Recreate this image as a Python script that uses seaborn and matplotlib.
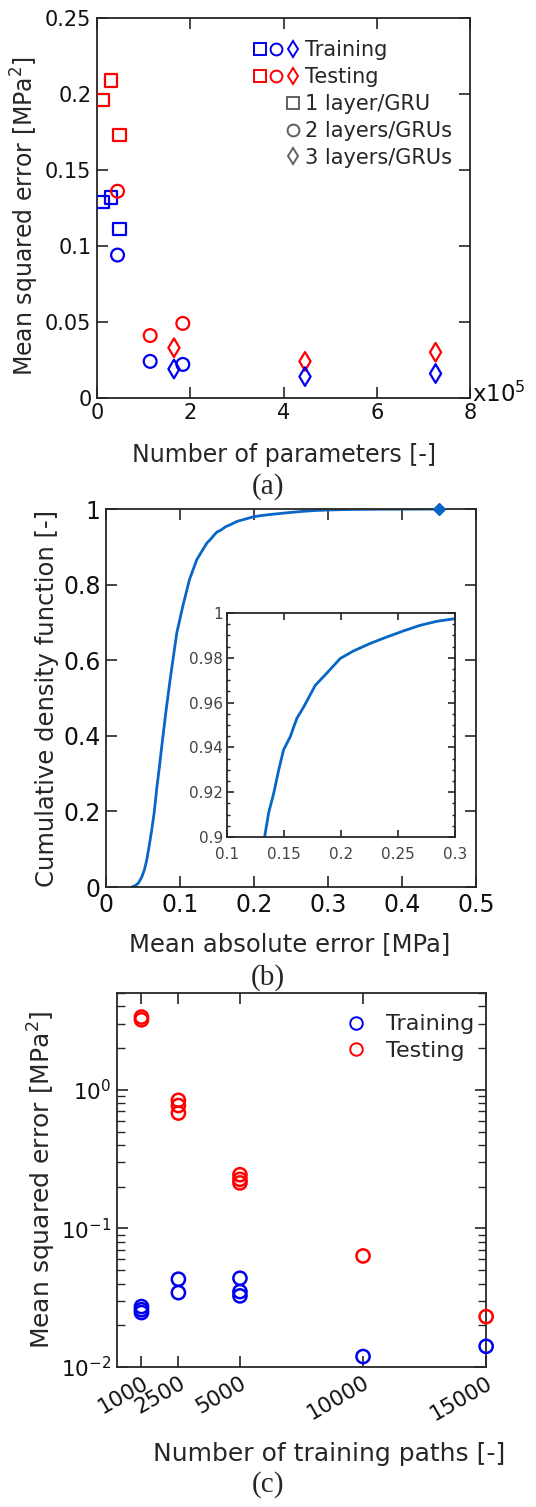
import numpy as np
import pandas as pd
import matplotlib
matplotlib.use('Agg')
import matplotlib.pyplot as plt
import seaborn as sns
from matplotlib.lines import Line2D
from matplotlib.legend_handler import HandlerTuple
from matplotlib.ticker import MultipleLocator, FixedLocator, LogLocator, NullFormatter, FuncFormatter

# ---------------- Panel (a) data ----------------
params_1layer = [0.12e5, 0.30e5, 0.48e5]
train_1layer = [0.129, 0.132, 0.111]
test_1layer = [0.196, 0.209, 0.173]
params_2layers = [0.44e5, 1.14e5, 1.84e5]
train_2layers = [0.094, 0.024, 0.022]
test_2layers = [0.136, 0.041, 0.049]
params_3layers = [1.65e5, 4.46e5, 7.26e5]
train_3layers = [0.019, 0.014, 0.016]
test_3layers = [0.033, 0.024, 0.030]
legend_a = ["Training", "Testing", "1 layer/GRU", "2 layers/GRUs", "3 layers/GRUs"]

# ---------------- Panel (b) data ----------------
mae = [0.0347, 0.0392, 0.0437, 0.0482, 0.0518, 0.055, 0.0581, 0.0617, 0.0649, 0.0685,
       0.0721, 0.0752, 0.0806, 0.0865, 0.091, 0.0955, 0.1036, 0.1126, 0.1225,
       0.133, 0.1365, 0.141, 0.1454, 0.1496, 0.1555, 0.1613, 0.1672,
       0.1774, 0.1876, 0.1993, 0.211, 0.2255, 0.2401, 0.2547, 0.2693, 0.2839, 0.30,
       0.33, 0.38, 0.45]
cdf = [0.0, 0.0035, 0.0106, 0.0265, 0.0459, 0.0723, 0.1076, 0.1517, 0.1958, 0.2619,
       0.3192, 0.3721, 0.4603, 0.5485, 0.6102, 0.672, 0.7425, 0.813, 0.866,
       0.900, 0.9107, 0.9196, 0.930, 0.9389, 0.9448, 0.953, 0.958,
       0.9677, 0.9732, 0.9797, 0.9831, 0.9864, 0.9893, 0.992, 0.9945, 0.9963, 0.9975,
       0.999, 0.9997, 1.0]

# ---------------- Panel (c) data ----------------
paths_train = [1000, 1000, 1000, 2500, 2500, 5000, 5000, 5000, 10000, 15000]
mse_train = [0.0273, 0.0259, 0.0247, 0.043, 0.0344, 0.0437, 0.035, 0.0326, 0.0119, 0.0141]
paths_test = [1000, 1000, 2500, 2500, 2500, 5000, 5000, 5000, 10000, 15000]
mse_test = [3.35, 3.2, 0.84, 0.77, 0.68, 0.244, 0.226, 0.213, 0.0633, 0.0231]
path_ticks = [1000, 2500, 5000, 10000, 15000]

# ---------------- style ----------------
sns.set_theme(style="ticks")
plt.rcParams['font.family'] = ['DejaVu Sans']
plt.rcParams['mathtext.fontset'] = 'dejavusans'
BLUE = '#0000ee'
RED = '#ff0000'
GRAY = '#606060'
AX_COL = '#262626'
LINE_B = '#0866c6'

fig = plt.figure(figsize=(5.36, 15.07), dpi=100)


def style_axes(ax, length=8, labelsize=14.5):
    for s in ax.spines.values():
        s.set_color(AX_COL)
        s.set_linewidth(1.3)
        s.set_visible(True)
    ax.tick_params(which='major', direction='in', top=True, right=True,
                   length=length, width=1.2, labelsize=labelsize, pad=4,
                   color=AX_COL, labelcolor='#111111')
    ax.tick_params(which='minor', direction='in', top=True, right=True,
                   length=length / 2, width=1.0, color=AX_COL)


gfmt = FuncFormatter(lambda v, p: f"{v:g}")

# ================= Panel (a) =================
ax_a = fig.add_axes([0.181, 0.736, 0.696, 0.252])
mk = dict(facecolor='none', linewidth=1.6, ax=ax_a, legend=False, zorder=3)
sns.scatterplot(x=params_1layer, y=test_1layer, marker='s', s=80, edgecolor=RED, **mk)
sns.scatterplot(x=params_1layer, y=train_1layer, marker='s', s=80, edgecolor=BLUE, **mk)
sns.scatterplot(x=params_2layers, y=test_2layers, marker='o', s=85, edgecolor=RED, **mk)
sns.scatterplot(x=params_2layers, y=train_2layers, marker='o', s=85, edgecolor=BLUE, **mk)
sns.scatterplot(x=params_3layers, y=test_3layers, marker='d', s=90, edgecolor=RED, **mk)
sns.scatterplot(x=params_3layers, y=train_3layers, marker='d', s=90, edgecolor=BLUE, **mk)
ax_a.set_xlim(0, 8e5)
ax_a.set_ylim(0, 0.25)
ax_a.xaxis.set_major_locator(MultipleLocator(2e5))
ax_a.xaxis.set_major_formatter(FuncFormatter(lambda v, p: f"{v/1e5:g}"))
ax_a.yaxis.set_major_locator(MultipleLocator(0.05))
ax_a.yaxis.set_major_formatter(gfmt)
style_axes(ax_a, labelsize=15)
ax_a.set_xlabel("Number of parameters [-]", fontsize=17)
ax_a.xaxis.set_label_coords(0.5, -0.118)
ax_a.set_ylabel("Mean squared error [MPa$^2$]", fontsize=17)
ax_a.yaxis.set_label_coords(-0.15, 0.48)
ax_a.text(1.005, 0.01, "x10$^5$", transform=ax_a.transAxes, fontsize=16.5,
          ha='left', va='center', color='#111111')


def lm(marker, color, ms=8.5):
    return Line2D([], [], linestyle='none', marker=marker, markersize=ms,
                  markerfacecolor='none', markeredgecolor=color, markeredgewidth=1.4)


blank = Line2D([], [], linestyle='none', marker='None')
handles_a = [
    (lm('s', BLUE, 8), lm('o', BLUE, 8.5), lm('d', BLUE, 8)),
    (lm('s', RED, 8), lm('o', RED, 8.5), lm('d', RED, 8)),
    (blank, blank, lm('s', GRAY, 8)),
    (blank, blank, lm('o', GRAY, 8.5)),
    (blank, blank, lm('d', GRAY, 8)),
]
ax_a.legend(handles_a, legend_a, handler_map={tuple: HandlerTuple(ndivide=None)},
            loc='upper left', bbox_to_anchor=(0.38, 0.98), frameon=False,
            fontsize=15, handlelength=2.2, handletextpad=0.3, labelspacing=0.33,
            borderpad=0.2)

fig.text(0.5, 1 - 487 / 1507, "(a)", ha='center', va='center',
         fontsize=21, family='Liberation Serif')

# ================= Panel (b) =================
ax_b = fig.add_axes([0.198, 0.4114, 0.690, 0.2508])
df_b = pd.DataFrame({"mae": mae, "cdf": cdf})
sns.lineplot(data=df_b, x="mae", y="cdf", ax=ax_b, color=LINE_B, linewidth=2.0,
             sort=False, estimator=None)
ax_b.plot(mae[-1:], cdf[-1:], marker='D', markersize=6, color=LINE_B,
          linestyle='none', clip_on=False, zorder=5)
ax_b.set_xlim(0, 0.5)
ax_b.set_ylim(0, 1)
ax_b.xaxis.set_major_locator(MultipleLocator(0.1))
ax_b.yaxis.set_major_locator(MultipleLocator(0.2))
ax_b.xaxis.set_major_formatter(gfmt)
ax_b.yaxis.set_major_formatter(gfmt)
style_axes(ax_b, labelsize=17)
ax_b.set_xlabel("Mean absolute error [MPa]", fontsize=17.5)
ax_b.xaxis.set_label_coords(0.497, -0.119)
ax_b.set_ylabel("Cumulative density function [-]", fontsize=17.5)
ax_b.yaxis.set_label_coords(-0.127, 0.5)

ax_in = fig.add_axes([0.4235, 0.4446, 0.4254, 0.1486])
sns.lineplot(data=df_b, x="mae", y="cdf", ax=ax_in, color=LINE_B, linewidth=2.0,
             sort=False, estimator=None)
ax_in.set_xlim(0.1, 0.3)
ax_in.set_ylim(0.9, 1.0)
ax_in.xaxis.set_major_locator(MultipleLocator(0.05))
ax_in.yaxis.set_major_locator(MultipleLocator(0.02))
ax_in.yaxis.set_minor_locator(MultipleLocator(0.005))
ax_in.xaxis.set_major_formatter(gfmt)
ax_in.yaxis.set_major_formatter(gfmt)
style_axes(ax_in, length=5, labelsize=11)
ax_in.tick_params(which='both', labelcolor='#444444')
ax_in.tick_params(axis='x', pad=7)
ax_in.tick_params(axis='y', pad=3)
ax_in.set_xlabel("")
ax_in.set_ylabel("")

fig.text(0.5, 1 - 978 / 1507, "(b)", ha='center', va='center',
         fontsize=21, family='Liberation Serif')

# ================= Panel (c) =================
ax_c = fig.add_axes([0.218, 0.0929, 0.689, 0.2482])
sns.scatterplot(x=paths_train, y=mse_train, marker='o', s=90, facecolor='none',
                edgecolor=BLUE, linewidth=1.8, ax=ax_c, legend=False, zorder=3, clip_on=False)
sns.scatterplot(x=paths_test, y=mse_test, marker='o', s=90, facecolor='none',
                edgecolor=RED, linewidth=1.8, ax=ax_c, legend=False, zorder=3, clip_on=False)
ax_c.set_yscale('log')
ax_c.set_xlim(0, 15000)
ax_c.set_ylim(0.01, 5)
ax_c.xaxis.set_major_locator(FixedLocator(path_ticks))
ax_c.xaxis.set_major_formatter(FuncFormatter(lambda v, p: f"{v:g}"))
ax_c.yaxis.set_major_locator(LogLocator(base=10, numticks=10))
ax_c.yaxis.set_minor_locator(LogLocator(base=10, subs=np.arange(2, 10), numticks=20))
ax_c.yaxis.set_minor_formatter(NullFormatter())
style_axes(ax_c, labelsize=15.5)
ax_c.tick_params(which='minor', length=6)
for lab in ax_c.get_xticklabels():
    lab.set_rotation(30)
    lab.set_ha('right')
    lab.set_rotation_mode('anchor')
ax_c.set_xlabel("Number of training paths [-]", fontsize=18)
ax_c.xaxis.set_label_coords(0.575, -0.2)
ax_c.set_ylabel("Mean squared error [MPa$^2$]", fontsize=18)
ax_c.yaxis.set_label_coords(-0.16, 0.5)
handles_c = [lm('o', BLUE, 9), lm('o', RED, 9)]
ax_c.legend(handles_c, ["Training", "Testing"], loc='upper right',
            bbox_to_anchor=(1.015, 0.99), frameon=False, fontsize=16,
            handlelength=1.2, handletextpad=0.75, labelspacing=0.3, borderpad=0.3)

fig.text(0.5, 1 - 1485 / 1507, "(c)", ha='center', va='center',
         fontsize=21, family='Liberation Serif')

fig.savefig("out.png", dpi=100, facecolor='white')
